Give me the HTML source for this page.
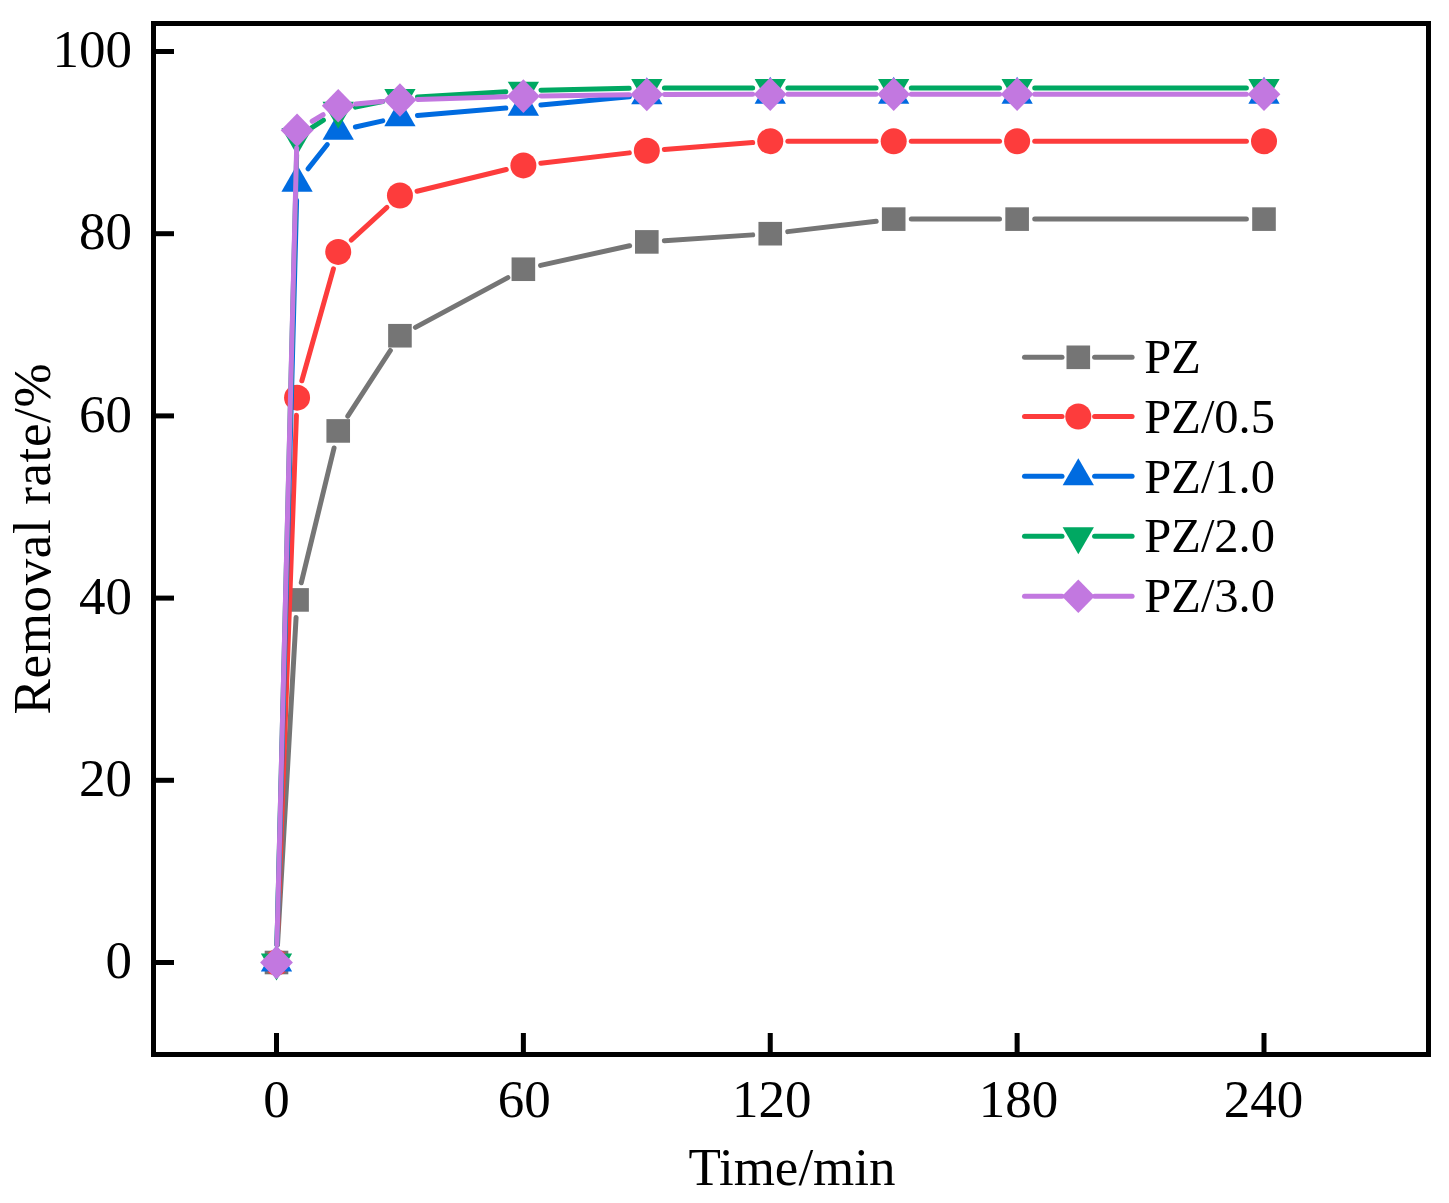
<!DOCTYPE html>
<html><head><meta charset="utf-8"><title>Removal rate</title>
<style>
html,body{margin:0;padding:0;background:#fff;}
body{width:1449px;height:1203px;overflow:hidden;font-family:"Liberation Serif",serif;}
.t{font-family:"Liberation Serif",serif;font-size:53px;fill:#000;}
.l{font-family:"Liberation Serif",serif;font-size:48.5px;fill:#000;}
</style></head><body>
<svg width="1449" height="1203" viewBox="0 0 1449 1203" style="display:block">
<rect x="0" y="0" width="1449" height="1203" fill="#fff"/>
<line x1="277.50" y1="944.93" x2="296.08" y2="617.49" stroke="#757575" stroke-width="5.0" stroke-linecap="round"/>
<line x1="301.24" y1="582.82" x2="334.06" y2="448.03" stroke="#757575" stroke-width="5.0" stroke-linecap="round"/>
<line x1="347.79" y1="416.16" x2="390.36" y2="350.50" stroke="#757575" stroke-width="5.0" stroke-linecap="round"/>
<line x1="415.43" y1="327.38" x2="507.88" y2="277.58" stroke="#757575" stroke-width="5.0" stroke-linecap="round"/>
<line x1="540.56" y1="265.42" x2="629.63" y2="245.70" stroke="#757575" stroke-width="5.0" stroke-linecap="round"/>
<line x1="664.37" y1="240.73" x2="752.69" y2="234.87" stroke="#757575" stroke-width="5.0" stroke-linecap="round"/>
<line x1="787.73" y1="231.64" x2="876.21" y2="221.19" stroke="#757575" stroke-width="5.0" stroke-linecap="round"/>
<line x1="911.29" y1="219.12" x2="999.52" y2="219.12" stroke="#757575" stroke-width="5.0" stroke-linecap="round"/>
<line x1="1034.72" y1="219.12" x2="1246.40" y2="219.12" stroke="#757575" stroke-width="5.0" stroke-linecap="round"/>
<rect x="264.70" y="950.70" width="23.6" height="23.6" fill="#757575"/>
<rect x="285.27" y="588.12" width="23.6" height="23.6" fill="#757575"/>
<rect x="326.42" y="419.13" width="23.6" height="23.6" fill="#757575"/>
<rect x="388.14" y="323.93" width="23.6" height="23.6" fill="#757575"/>
<rect x="511.57" y="257.43" width="23.6" height="23.6" fill="#757575"/>
<rect x="635.01" y="230.10" width="23.6" height="23.6" fill="#757575"/>
<rect x="758.45" y="221.90" width="23.6" height="23.6" fill="#757575"/>
<rect x="881.89" y="207.32" width="23.6" height="23.6" fill="#757575"/>
<rect x="1005.33" y="207.32" width="23.6" height="23.6" fill="#757575"/>
<rect x="1252.20" y="207.32" width="23.6" height="23.6" fill="#757575"/>
<line x1="277.14" y1="944.91" x2="296.43" y2="415.27" stroke="#FD3C3C" stroke-width="5.0" stroke-linecap="round"/>
<line x1="301.85" y1="380.74" x2="333.44" y2="268.86" stroke="#FD3C3C" stroke-width="5.0" stroke-linecap="round"/>
<line x1="351.20" y1="240.04" x2="386.95" y2="207.32" stroke="#FD3C3C" stroke-width="5.0" stroke-linecap="round"/>
<line x1="417.04" y1="191.27" x2="506.27" y2="169.54" stroke="#FD3C3C" stroke-width="5.0" stroke-linecap="round"/>
<line x1="540.85" y1="163.31" x2="629.33" y2="152.86" stroke="#FD3C3C" stroke-width="5.0" stroke-linecap="round"/>
<line x1="664.36" y1="149.44" x2="752.70" y2="142.59" stroke="#FD3C3C" stroke-width="5.0" stroke-linecap="round"/>
<line x1="787.85" y1="141.23" x2="876.09" y2="141.23" stroke="#FD3C3C" stroke-width="5.0" stroke-linecap="round"/>
<line x1="911.29" y1="141.23" x2="999.52" y2="141.23" stroke="#FD3C3C" stroke-width="5.0" stroke-linecap="round"/>
<line x1="1034.72" y1="141.23" x2="1246.40" y2="141.23" stroke="#FD3C3C" stroke-width="5.0" stroke-linecap="round"/>
<circle cx="276.50" cy="962.50" r="13.0" fill="#FD3C3C"/>
<circle cx="297.07" cy="397.68" r="13.0" fill="#FD3C3C"/>
<circle cx="338.22" cy="251.92" r="13.0" fill="#FD3C3C"/>
<circle cx="399.94" cy="195.44" r="13.0" fill="#FD3C3C"/>
<circle cx="523.38" cy="165.38" r="13.0" fill="#FD3C3C"/>
<circle cx="646.81" cy="150.80" r="13.0" fill="#FD3C3C"/>
<circle cx="770.25" cy="141.23" r="13.0" fill="#FD3C3C"/>
<circle cx="893.69" cy="141.23" r="13.0" fill="#FD3C3C"/>
<circle cx="1017.12" cy="141.23" r="13.0" fill="#FD3C3C"/>
<circle cx="1264.00" cy="141.23" r="13.0" fill="#FD3C3C"/>
<line x1="276.96" y1="944.91" x2="296.61" y2="200.28" stroke="#006BE0" stroke-width="5.0" stroke-linecap="round"/>
<line x1="308.00" y1="168.89" x2="327.29" y2="144.55" stroke="#006BE0" stroke-width="5.0" stroke-linecap="round"/>
<line x1="355.40" y1="126.95" x2="382.75" y2="120.90" stroke="#006BE0" stroke-width="5.0" stroke-linecap="round"/>
<line x1="417.47" y1="115.60" x2="505.84" y2="108.10" stroke="#006BE0" stroke-width="5.0" stroke-linecap="round"/>
<line x1="540.90" y1="105.00" x2="629.29" y2="96.84" stroke="#006BE0" stroke-width="5.0" stroke-linecap="round"/>
<polygon points="276.50,944.43 292.15,971.53 260.85,971.53" fill="#006BE0"/>
<polygon points="297.07,164.62 312.72,191.72 281.42,191.72" fill="#006BE0"/>
<polygon points="338.22,112.69 353.87,139.79 322.57,139.79" fill="#006BE0"/>
<polygon points="399.94,99.03 415.59,126.13 384.29,126.13" fill="#006BE0"/>
<polygon points="523.38,88.55 539.02,115.65 507.73,115.65" fill="#006BE0"/>
<polygon points="646.81,77.16 662.46,104.26 631.16,104.26" fill="#006BE0"/>
<polygon points="770.25,76.71 785.90,103.81 754.60,103.81" fill="#006BE0"/>
<polygon points="893.69,76.71 909.34,103.81 878.04,103.81" fill="#006BE0"/>
<polygon points="1017.12,76.71 1032.78,103.81 1001.48,103.81" fill="#006BE0"/>
<polygon points="1264.00,76.71 1279.65,103.81 1248.35,103.81" fill="#006BE0"/>
<line x1="276.94" y1="944.91" x2="296.63" y2="154.73" stroke="#00A862" stroke-width="5.0" stroke-linecap="round"/>
<line x1="311.88" y1="127.62" x2="323.41" y2="120.22" stroke="#00A862" stroke-width="5.0" stroke-linecap="round"/>
<line x1="355.45" y1="107.15" x2="382.70" y2="101.52" stroke="#00A862" stroke-width="5.0" stroke-linecap="round"/>
<line x1="417.51" y1="96.92" x2="505.81" y2="91.71" stroke="#00A862" stroke-width="5.0" stroke-linecap="round"/>
<line x1="540.97" y1="90.28" x2="629.22" y2="88.33" stroke="#00A862" stroke-width="5.0" stroke-linecap="round"/>
<line x1="664.41" y1="87.94" x2="752.65" y2="87.94" stroke="#00A862" stroke-width="5.0" stroke-linecap="round"/>
<line x1="787.85" y1="87.94" x2="876.09" y2="87.94" stroke="#00A862" stroke-width="5.0" stroke-linecap="round"/>
<line x1="911.29" y1="87.94" x2="999.52" y2="87.94" stroke="#00A862" stroke-width="5.0" stroke-linecap="round"/>
<line x1="1034.72" y1="87.94" x2="1246.40" y2="87.94" stroke="#00A862" stroke-width="5.0" stroke-linecap="round"/>
<polygon points="276.50,980.57 292.15,953.47 260.85,953.47" fill="#00A862"/>
<polygon points="297.07,155.20 312.72,128.10 281.42,128.10" fill="#00A862"/>
<polygon points="338.22,128.78 353.87,101.68 322.57,101.68" fill="#00A862"/>
<polygon points="399.94,116.03 415.59,88.93 384.29,88.93" fill="#00A862"/>
<polygon points="523.38,108.74 539.02,81.64 507.73,81.64" fill="#00A862"/>
<polygon points="646.81,106.01 662.46,78.91 631.16,78.91" fill="#00A862"/>
<polygon points="770.25,106.01 785.90,78.91 754.60,78.91" fill="#00A862"/>
<polygon points="893.69,106.01 909.34,78.91 878.04,78.91" fill="#00A862"/>
<polygon points="1017.12,106.01 1032.78,78.91 1001.48,78.91" fill="#00A862"/>
<polygon points="1264.00,106.01 1279.65,78.91 1248.35,78.91" fill="#00A862"/>
<line x1="276.93" y1="944.91" x2="296.64" y2="147.90" stroke="#C278E0" stroke-width="5.0" stroke-linecap="round"/>
<line x1="312.18" y1="121.27" x2="323.11" y2="114.74" stroke="#C278E0" stroke-width="5.0" stroke-linecap="round"/>
<line x1="355.74" y1="104.07" x2="382.41" y2="101.59" stroke="#C278E0" stroke-width="5.0" stroke-linecap="round"/>
<line x1="417.53" y1="99.42" x2="505.78" y2="96.68" stroke="#C278E0" stroke-width="5.0" stroke-linecap="round"/>
<line x1="540.97" y1="95.91" x2="629.21" y2="94.73" stroke="#C278E0" stroke-width="5.0" stroke-linecap="round"/>
<line x1="664.41" y1="94.47" x2="752.65" y2="94.34" stroke="#C278E0" stroke-width="5.0" stroke-linecap="round"/>
<line x1="787.85" y1="94.32" x2="876.09" y2="94.32" stroke="#C278E0" stroke-width="5.0" stroke-linecap="round"/>
<line x1="911.29" y1="94.32" x2="999.52" y2="94.32" stroke="#C278E0" stroke-width="5.0" stroke-linecap="round"/>
<line x1="1034.72" y1="94.32" x2="1246.40" y2="94.32" stroke="#C278E0" stroke-width="5.0" stroke-linecap="round"/>
<polygon points="276.50,945.70 292.90,962.50 276.50,979.30 260.10,962.50" fill="#C278E0"/>
<polygon points="297.07,113.50 313.47,130.30 297.07,147.10 280.67,130.30" fill="#C278E0"/>
<polygon points="338.22,88.90 354.62,105.70 338.22,122.50 321.82,105.70" fill="#C278E0"/>
<polygon points="399.94,83.17 416.34,99.97 399.94,116.77 383.54,99.97" fill="#C278E0"/>
<polygon points="523.38,79.34 539.77,96.14 523.38,112.94 506.98,96.14" fill="#C278E0"/>
<polygon points="646.81,77.70 663.21,94.50 646.81,111.30 630.41,94.50" fill="#C278E0"/>
<polygon points="770.25,77.52 786.65,94.32 770.25,111.12 753.85,94.32" fill="#C278E0"/>
<polygon points="893.69,77.52 910.09,94.32 893.69,111.12 877.29,94.32" fill="#C278E0"/>
<polygon points="1017.12,77.52 1033.53,94.32 1017.12,111.12 1000.73,94.32" fill="#C278E0"/>
<polygon points="1264.00,77.52 1280.40,94.32 1264.00,111.12 1247.60,94.32" fill="#C278E0"/>
<rect x="153.5" y="23.5" width="1275.0" height="1031.0" fill="none" stroke="#000" stroke-width="5.0"/>
<rect x="274.00" y="1033.00" width="5" height="20.0" fill="#000"/>
<text x="276.50" y="1117" text-anchor="middle" class="t">0</text>
<rect x="520.88" y="1033.00" width="5" height="20.0" fill="#000"/>
<text x="524.17" y="1117" text-anchor="middle" class="t">60</text>
<rect x="767.75" y="1033.00" width="5" height="20.0" fill="#000"/>
<text x="771.75" y="1117" text-anchor="middle" class="t">120</text>
<rect x="1014.62" y="1033.00" width="5" height="20.0" fill="#000"/>
<text x="1018.62" y="1117" text-anchor="middle" class="t">180</text>
<rect x="1261.50" y="1033.00" width="5" height="20.0" fill="#000"/>
<text x="1263.50" y="1117" text-anchor="middle" class="t">240</text>
<rect x="155.00" y="960.00" width="19.0" height="5" fill="#000"/>
<text x="132" y="978.20" text-anchor="end" class="t">0</text>
<rect x="155.00" y="777.80" width="19.0" height="5" fill="#000"/>
<text x="132" y="796.00" text-anchor="end" class="t">20</text>
<rect x="155.00" y="595.60" width="19.0" height="5" fill="#000"/>
<text x="132" y="613.80" text-anchor="end" class="t">40</text>
<rect x="155.00" y="413.40" width="19.0" height="5" fill="#000"/>
<text x="132" y="431.60" text-anchor="end" class="t">60</text>
<rect x="155.00" y="231.20" width="19.0" height="5" fill="#000"/>
<text x="132" y="249.40" text-anchor="end" class="t">80</text>
<rect x="155.00" y="49.00" width="19.0" height="5" fill="#000"/>
<text x="132" y="67.20" text-anchor="end" class="t">100</text>
<text x="792" y="1185" text-anchor="middle" class="t">Time/min</text>
<text transform="translate(49.8,538.6) rotate(-90)" text-anchor="middle" class="t" style="letter-spacing:0.62px">Removal rate/%</text>
<line x1="1024.50" y1="357.30" x2="1062.00" y2="357.30" stroke="#757575" stroke-width="5.0" stroke-linecap="round"/>
<line x1="1094.60" y1="357.30" x2="1132.10" y2="357.30" stroke="#757575" stroke-width="5.0" stroke-linecap="round"/>
<rect x="1066.50" y="345.50" width="23.6" height="23.6" fill="#757575"/>
<text x="1144.3" y="373.30" class="l">PZ</text>
<line x1="1024.50" y1="416.50" x2="1062.00" y2="416.50" stroke="#FD3C3C" stroke-width="5.0" stroke-linecap="round"/>
<line x1="1094.60" y1="416.50" x2="1132.10" y2="416.50" stroke="#FD3C3C" stroke-width="5.0" stroke-linecap="round"/>
<circle cx="1078.30" cy="416.50" r="13.0" fill="#FD3C3C"/>
<text x="1144.3" y="432.95" class="l">PZ/0.5</text>
<line x1="1024.50" y1="476.30" x2="1062.00" y2="476.30" stroke="#006BE0" stroke-width="5.0" stroke-linecap="round"/>
<line x1="1094.60" y1="476.30" x2="1132.10" y2="476.30" stroke="#006BE0" stroke-width="5.0" stroke-linecap="round"/>
<polygon points="1078.30,458.23 1093.95,485.33 1062.65,485.33" fill="#006BE0"/>
<text x="1144.3" y="492.60" class="l">PZ/1.0</text>
<line x1="1024.50" y1="536.20" x2="1062.00" y2="536.20" stroke="#00A862" stroke-width="5.0" stroke-linecap="round"/>
<line x1="1094.60" y1="536.20" x2="1132.10" y2="536.20" stroke="#00A862" stroke-width="5.0" stroke-linecap="round"/>
<polygon points="1078.30,554.27 1093.95,527.17 1062.65,527.17" fill="#00A862"/>
<text x="1144.3" y="552.25" class="l">PZ/2.0</text>
<line x1="1024.50" y1="596.20" x2="1062.00" y2="596.20" stroke="#C278E0" stroke-width="5.0" stroke-linecap="round"/>
<line x1="1094.60" y1="596.20" x2="1132.10" y2="596.20" stroke="#C278E0" stroke-width="5.0" stroke-linecap="round"/>
<polygon points="1078.30,579.40 1094.70,596.20 1078.30,613.00 1061.90,596.20" fill="#C278E0"/>
<text x="1144.3" y="611.90" class="l">PZ/3.0</text>
</svg>
</body></html>
